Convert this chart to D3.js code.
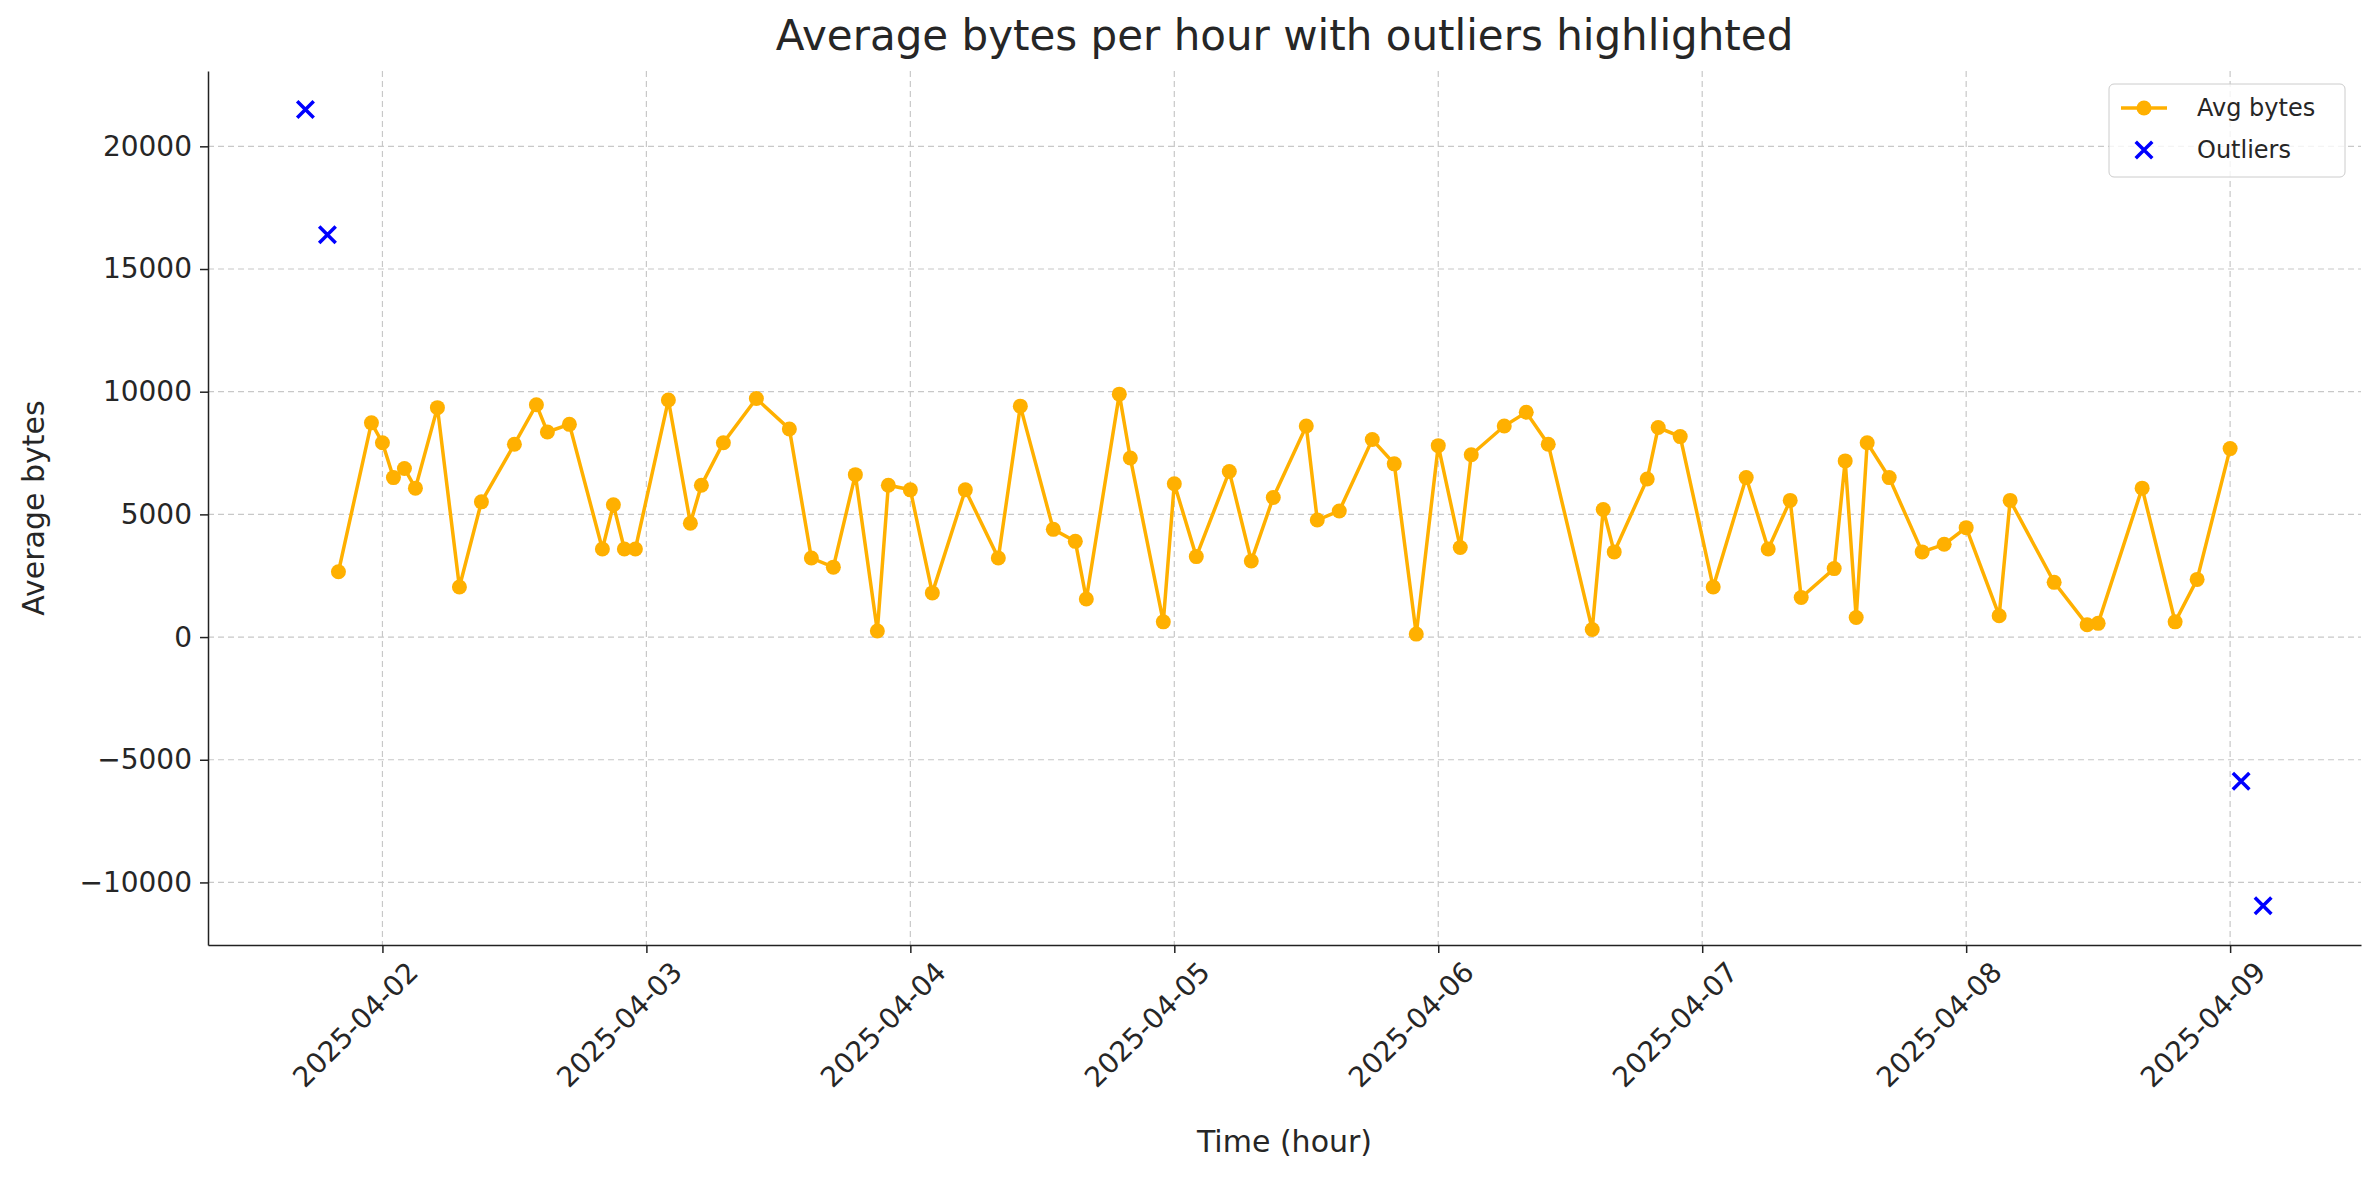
<!DOCTYPE html>
<html>
<head>
<meta charset="utf-8">
<script src="https://cdn.jsdelivr.net/npm/d3@7"></script>
<style>
  body { margin: 0; background: #fff; }
  svg text { font-family: "DejaVu Sans", sans-serif; fill: #262626; }
</style>
</head>
<body>
<div class="chart"></div>
<script>
// hours offset from 2025-04-02 00:00
const hours = [-4,-1,0,1,2,3,5,7,9,12,14,15,17,20,21,22,23,26,28,29,31,34,37,39,41,43,45,46,48,50,
  53,56,58,61,63,64,67,68,71,72,74,77,79,81,84,85,87,90,92,94,96,98,99,102,104,106,110,111,112,115,
  116,118,121,124,126,128,129,132,133,134,135,137,140,142,144,147,148,152,155,156,160,163,165,168];
const avgBytes = [2660,8730,7920,6500,6870,6070,9350,2040,5510,7860,9470,8360,8670,3590,5390,3590,3590,9660,4640,6190,
  7920,9720,8480,3220,2850,6620,250,6190,6000,1800,6000,3220,9410,4390,3900,1550,9900,7300,620,6250,
  3280,6750,3100,5690,8600,4770,5140,8050,7060,120,7800,3650,7430,8600,9160,7860,310,5200,3470,6440,
  8540,8170,2040,6500,3590,5570,1610,2790,7180,800,7920,6500,3470,3780,4460,870,5570,2230,500,560,
  6070,620,2350,7680];
const outlierHours = [-7,-5,169,171];
const outlierBytes = [21500,16400,-5880,-10950];
const yTicks = [-10000,-5000,0,5000,10000,15000,20000];

const base = Date.UTC(2025,3,2);
const toDate = h => new Date(base + h*3600e3);

const W = 2379, H = 1180;
const margin = { top: 71, right: 18, bottom: 235, left: 208 };
const width = W - margin.left - margin.right;
const height = H - margin.top - margin.bottom;

const svg = d3.select(".chart").append("svg").attr("width", W).attr("height", H);
const g = svg.append("g").attr("transform", `translate(${margin.left},${margin.top})`);

const x = d3.scaleUtc().domain([toDate(-15.86), toDate(179.9)]).range([0, width]);
const y = d3.scaleLinear().domain([-12550, 23070]).range([height, 0]);

const dayTicks = d3.range(0, 8).map(d => toDate(d*24));

// grid
g.append("g").selectAll("line").data(dayTicks).join("line")
  .attr("x1", d => x(d)).attr("x2", d => x(d)).attr("y1", 0).attr("y2", height)
  .attr("stroke", "#c8c8c8").attr("stroke-dasharray", "6,4").attr("stroke-width", 1.2);
g.append("g").selectAll("line").data(yTicks).join("line")
  .attr("x1", 0).attr("x2", width).attr("y1", d => y(d)).attr("y2", d => y(d))
  .attr("stroke", "#c8c8c8").attr("stroke-dasharray", "6,4").attr("stroke-width", 1.2);

// axes
const xAxis = g.append("g").attr("transform", `translate(0,${height})`)
  .call(d3.axisBottom(x).tickValues(dayTicks).tickFormat(d3.utcFormat("%Y-%m-%d")).tickSize(8).tickSizeOuter(0));
xAxis.selectAll("text").attr("font-size", 28)
  .attr("text-anchor", "end").attr("x", 0).attr("y", 0).attr("dy", "0.75em")
  .attr("transform", "translate(22,14) rotate(-45)");
const yAxis = g.append("g")
  .call(d3.axisLeft(y).tickValues(yTicks).tickFormat(d => d < 0 ? "\u2212" + Math.abs(d) : d).tickSize(8).tickSizeOuter(0).tickPadding(8));
yAxis.selectAll("text").attr("font-size", 28);
g.selectAll(".domain, .tick line").attr("stroke", "#222").attr("stroke-width", 1.5);

// line
const pts = hours.map((h, i) => [toDate(h), avgBytes[i]]);
g.append("path").datum(pts)
  .attr("fill", "none").attr("stroke", "#FFB000").attr("stroke-width", 3.5)
  .attr("d", d3.line().x(d => x(d[0])).y(d => y(d[1])));
g.append("g").selectAll("circle").data(pts).join("circle")
  .attr("cx", d => x(d[0])).attr("cy", d => y(d[1])).attr("r", 7.5).attr("fill", "#FFB000");

// outliers
const cross = d3.symbol().type(d3.symbolX).size(180);
g.append("g").selectAll("path").data(outlierHours.map((h, i) => [toDate(h), outlierBytes[i]])).join("path")
  .attr("d", cross).attr("transform", d => `translate(${x(d[0])},${y(d[1])})`)
  .attr("stroke", "#0000FF").attr("stroke-width", 3.5).attr("fill", "none");

// labels
svg.append("text").attr("x", margin.left + width/2).attr("y", 50).attr("text-anchor", "middle")
  .attr("font-size", 42).text("Average bytes per hour with outliers highlighted");
svg.append("text").attr("x", margin.left + width/2).attr("y", 1152).attr("text-anchor", "middle")
  .attr("font-size", 30).text("Time (hour)");
svg.append("text").attr("transform", `translate(44,${margin.top + height/2}) rotate(-90)`)
  .attr("text-anchor", "middle").attr("font-size", 30).text("Average bytes");

// legend
const lg = svg.append("g").attr("transform", "translate(2109,84)");
lg.append("rect").attr("width", 236).attr("height", 93).attr("rx", 5)
  .attr("fill", "#fff").attr("fill-opacity", 0.8).attr("stroke", "#ccc");
lg.append("line").attr("x1", 12).attr("x2", 58).attr("y1", 24).attr("y2", 24).attr("stroke", "#FFB000").attr("stroke-width", 3.5);
lg.append("circle").attr("cx", 35).attr("cy", 24).attr("r", 7.5).attr("fill", "#FFB000");
lg.append("path").attr("d", cross).attr("transform", "translate(35,66)").attr("stroke", "#0000FF").attr("stroke-width", 3.5);
lg.append("text").attr("x", 88).attr("y", 32).attr("font-size", 24).text("Avg bytes");
lg.append("text").attr("x", 88).attr("y", 74).attr("font-size", 24).text("Outliers");
</script>
</body>
</html>
